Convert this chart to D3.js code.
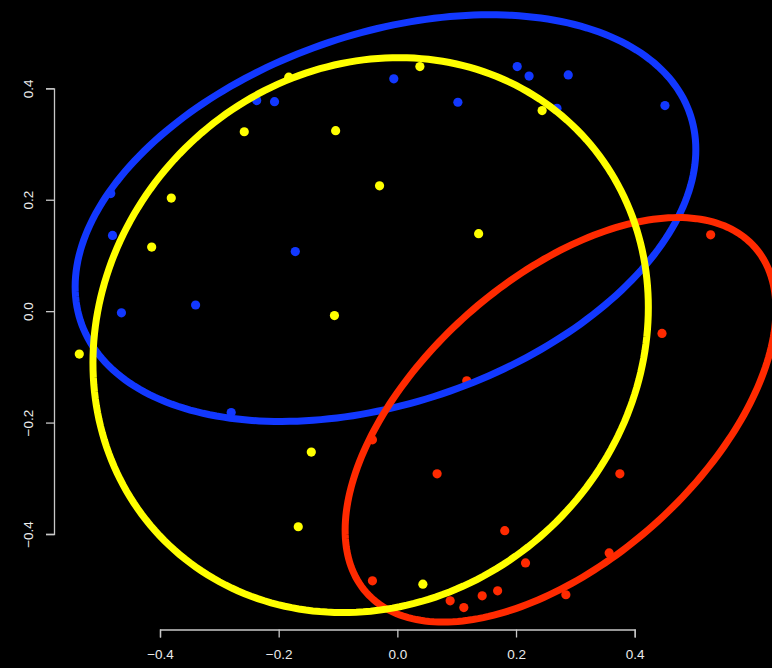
<!DOCTYPE html>
<head>
  <meta charset="utf-8">
  <script src="https://cdn.jsdelivr.net/npm/d3@7"></script>
  <style>
    body { margin:0; background:#000; }
    .tick text { font-family: Arial, "Liberation Sans", sans-serif; }
  </style>
</head>

<body>
  <script>
    // groups, in drawing order
    var groups = ["blue", "red", "yellow"];
    var colors = ["#1238ff", "#ff2a00", "#ffff00"];

    // points per group (x, y)
    var blueX = [-0.483, -0.480, -0.465, -0.340, -0.172, -0.237, -0.207, -0.006, 0.102, 0.202, 0.222, 0.288, 0.269, 0.451, -0.280];
    var blueY = [0.211, 0.136, -0.003, 0.011, 0.107, 0.378, 0.376, 0.417, 0.375, 0.439, 0.422, 0.424, 0.364, 0.369, -0.182];

    var redX = [0.528, 0.446, 0.117, -0.042, 0.067, 0.375, 0.181, 0.216, 0.357, -0.042, 0.089, 0.112, 0.143, 0.169, 0.284];
    var redY = [0.137, -0.040, -0.125, -0.231, -0.292, -0.292, -0.394, -0.452, -0.434, -0.484, -0.520, -0.532, -0.511, -0.502, -0.509];

    var yellowX = [-0.536, -0.414, -0.381, -0.258, -0.104, -0.030, -0.106, -0.183, 0.038, 0.244, 0.137, -0.145, -0.167, 0.043];
    var yellowY = [-0.077, 0.115, 0.203, 0.322, 0.324, 0.225, -0.008, 0.420, 0.439, 0.360, 0.139, -0.253, -0.387, -0.490];

    // ellipse per group: centre, half spread in x and y, correlation
    var ellCx = [-0.020, 0.275, -0.045];
    var ellCy = [0.167, -0.195, -0.043];
    var ellSx = [0.523, 0.363, 0.468];
    var ellSy = [0.365, 0.363, 0.498];
    var ellR  = [0.337, 0.545, 0.100];

    var ticks = [-0.4, -0.2, 0.0, 0.2, 0.4];

    var width = 772,
        height = 668;

    var svg = d3.select("body")
      .append("svg")
      .attr("width", width)
      .attr("height", height)
      .style("background", "#000");

    var x = d3.scaleLinear().domain([-0.4, 0.4]).range([160, 634.7]);
    var y = d3.scaleLinear().domain([-0.4, 0.4]).range([534, 88.3]);

    var ptsX = [blueX, redX, yellowX];
    var ptsY = [blueY, redY, yellowY];

    // points first
    groups.forEach(function(g, i) {
      svg.append("g").selectAll("circle")
        .data(d3.range(ptsX[i].length))
        .enter().append("circle")
        .attr("cx", function(k) { return x(ptsX[i][k]); })
        .attr("cy", function(k) { return y(ptsY[i][k]); })
        .attr("r", 4.6)
        .attr("fill", colors[i]);
    });

    // ellipses on top
    var line = d3.line()
      .x(function(d) { return x(d[0]); })
      .y(function(d) { return y(d[1]); })
      .curve(d3.curveLinearClosed);

    groups.forEach(function(g, i) {
      var s = Math.sqrt(1 - ellR[i] * ellR[i]);
      var pts = d3.range(0, 2 * Math.PI, Math.PI / 120).map(function(t) {
        return [ellCx[i] + ellSx[i] * Math.cos(t),
                ellCy[i] + ellSy[i] * (ellR[i] * Math.cos(t) + s * Math.sin(t))];
      });
      svg.append("path")
        .attr("d", line(pts))
        .attr("fill", "none")
        .attr("stroke", colors[i])
        .attr("stroke-width", 7);
    });

    var fmt = d3.format(".1f");

    var xAxis = svg.append("g")
      .attr("transform", "translate(0,629.5)")
      .call(d3.axisBottom(x).tickValues(ticks).tickFormat(fmt).tickSizeOuter(0).tickSize(8).tickPadding(12));

    var yAxis = svg.append("g")
      .attr("transform", "translate(54,0)")
      .call(d3.axisLeft(y).tickValues(ticks).tickFormat(fmt).tickSizeOuter(0).tickSize(8));

    [xAxis, yAxis].forEach(function(a) {
      a.select(".domain").attr("stroke", "#c8c8c8").attr("stroke-width", 1.3);
      a.selectAll(".tick line").attr("stroke", "#c8c8c8").attr("stroke-width", 1.3);
      a.selectAll(".tick text").attr("fill", "#ececec").style("font-size", "13.5px");
    });

    yAxis.selectAll(".tick text")
      .attr("x", 0)
      .attr("dy", 0)
      .attr("text-anchor", "middle")
      .attr("transform", "translate(-21,0) rotate(-90)");
  </script>
</body>
